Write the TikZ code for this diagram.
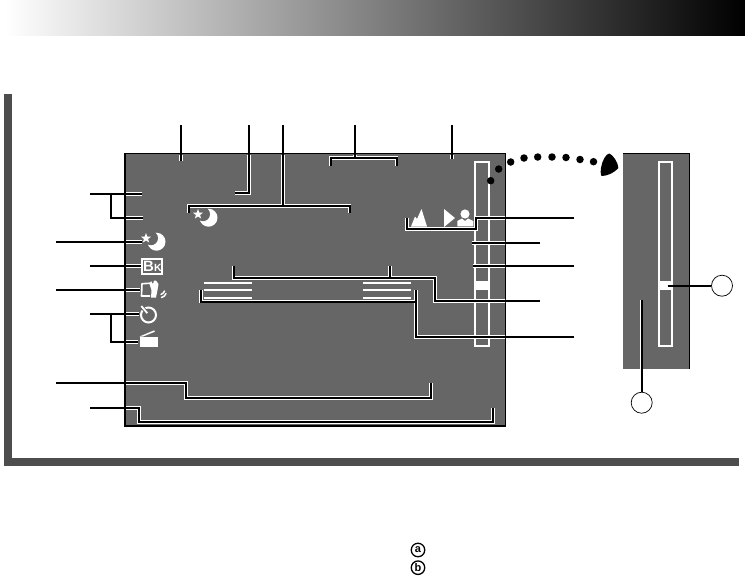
\documentclass[tikz,border=0pt]{standalone}
\usepackage{fontspec}
\setmainfont{Liberation Sans}
\usetikzlibrary{shapes.geometric}
\definecolor{scr}{HTML}{666666}
\definecolor{frm}{HTML}{4D4D4D}
\tikzset{
  x=1pt,y=-1pt,
  lead/.style={draw=black,line width=2pt,line cap=butt,line join=miter},
  halo/.style={draw=white,line width=3.6pt,line cap=square,line join=miter},
  whiteline/.style={draw=white,line width=2pt},
  barframe/.style={draw=white,line width=2pt,fill=scr},
  ring/.style={circle,draw=black,line width=0.7pt,fill=white,minimum size=21pt,inner sep=0pt},
  smallring/.style={circle,draw=black,line width=1.3pt,fill=white,minimum size=13.5pt,inner sep=0pt,font=\bfseries\fontsize{11}{11}\selectfont},
  dot/.style={circle,fill=black,minimum size=7.5pt,inner sep=0pt},
  nightstar/.style={star,star points=5,star point ratio=2.4,fill=white,minimum size=10.5pt,inner sep=0pt},
}
\newcommand\leader[1]{%
  \begin{scope}\clip (126,155) rectangle (505,425);\path[halo] #1;\end{scope}
  \path[lead] #1;}
\newcommand\nightmark[3]{%
  \begin{scope}[shift={(#1,#2)}]
    \fill[white] (0,0) circle (9);
    \fill[scr] (-5.5,-3.5) circle (7);
    \node[nightstar] (#3) at (-10.5,-3.4) {};
  \end{scope}}
\begin{document}
\begin{tikzpicture}
\useasboundingbox (0,0) rectangle (745,576);
\fill[white] (0,0) rectangle (745,576);
% header band
\shade[left color=white,right color=black] (5,0) rectangle (745,35);
% frame
\fill[frm] (4,94) rectangle (12,466);
\fill[frm] (4,458) rectangle (739,466);
% screen
\fill[scr] (124,153) rectangle (506,426);
\draw[black,line width=2pt] (125,426) -- (125,153.5);
\draw[black,line width=1.5pt] (124,153.7) -- (506,153.7);
\draw[black,line width=1pt] (505.5,153) -- (505.5,426);
\draw[black,line width=2pt] (124,425.5) -- (506,425.5);
% screen elements
\path[barframe] (475,162) rectangle (489,346);
\fill[white] (475,281) rectangle (489,290);
\foreach \yy in {283,290,298}{
  \draw[whiteline] (204,\yy) -- (252,\yy);
  \draw[whiteline] (363,\yy) -- (411,\yy);
}
% icons
\nightmark{156.5}{241.7}{nm1}
\nightmark{208.5}{217.7}{nm2}
% Bk
\node[draw=white,line width=2pt,fill=scr,minimum width=20pt,minimum height=15pt,inner sep=0pt,text=white,font=\bfseries] (bk) at (152.4,266)
  {\fontsize{15}{15}\selectfont B\fontsize{10.5}{10.5}\selectfont K};
% hand and card
\draw[white,line width=1.6pt,line join=round] (150.5,283.2) -- (142,283.7) -- (141.5,296) -- (150,296);
\fill[white] (149.5,284) -- (151,281) -- (153,284) -- (154,280.5) -- (156,280.5) -- (158.5,284) -- (157.5,290) -- (156,297.5) -- (151,297.5) -- (151.5,290) -- cycle;
\draw[white,line width=1.5pt,line cap=round] (161,294.5) .. controls (163,293.5) and (164,292.5) .. (164.5,291);
\draw[white,line width=1.5pt,line cap=round] (161.5,297.5) .. controls (163.5,297) and (165.5,295.5) .. (166,293.5);
% timer
\draw[white,line width=2pt] (148.5,315) circle (7.5);
\draw[scr,line width=3.5pt] (140,304.5) -- (147,313);
\draw[white,line width=1.8pt] (141.3,306) -- (147.3,313.2);
% clapper
\fill[white] (139.5,337.2) rectangle (157.5,346.7);
\fill[white] (139.5,336.5) -- (154.2,330.3) -- (154.8,331.8) -- (143,336.5) -- cycle;
% mountains
\fill[white] (411,226.5) -- (415,216.5) -- (417,219) -- (421.5,209) -- (427,226.5) -- cycle;
% arrow
\fill[white] (444,209) -- (455,218) -- (444,227) -- cycle;
% person
\fill[white] (465,214) circle (4.6);
\fill[white] (457.3,226.3) -- (457.3,221) -- (462,218.5) -- (465,221) -- (468,218.5) -- (473.3,221) -- (473.3,226.3) -- cycle;
% leaders, top
\leader{(181,125) -- (181,160.5)}
\leader{(249,125) -- (249,193) -- (235,193)}
\leader{(283,125) -- (283,206) (188.5,212.5) -- (188.5,206) -- (349.5,206) -- (349.5,212.5)}
\leader{(355,125) -- (355,158) (330.5,165.5) -- (330.5,158) -- (396.5,158) -- (396.5,165.5)}
\leader{(452,125) -- (452,158.5)}
% leaders, left
\leader{(90,193.7) -- (142,193.7) (110.7,193.7) -- (110.7,217.7) -- (143,217.7)}
\leader{(56,242) -- (142,242)}
\leader{(90,265.7) -- (141,265.7)}
\leader{(56,290) -- (140,290)}
\leader{(90,313.7) -- (139,313.7) (110.7,313.7) -- (110.7,341.7) -- (138,341.7)}
\leader{(56,383) -- (186,383) -- (186,398) -- (431,398) -- (431,383)}
\leader{(90,407.7) -- (139,407.7) -- (139,421.7) -- (493,421.7) -- (493,407.5)}
% leaders, right
\leader{(574,217.7) -- (475.7,217.7) -- (475.7,228.7) -- (406.7,228.7) -- (406.7,218)}
\leader{(540,242.7) -- (472,242.7)}
\leader{(574,265.7) -- (473,265.7)}
\leader{(540,301) -- (435,301) -- (435,278) -- (233.5,278) -- (233.5,266) (390,278) -- (390,266)}
\leader{(574,337) -- (416,337) -- (416,290) (416,301.5) -- (201,301.5) -- (201,290)}
% dotted arc
\foreach \i/\px/\py in {1/490.7/180.7,2/498.7/169,3/510.7/162,4/524/158,5/537.7/157,6/552/157,7/566/157.5,8/580/159.5,9/593.5/161.7}{
  \node[dot] (d\i) at (\px,\py) {};
}
\fill[black] (609.5,153.5) .. controls (613,155) and (618.5,163) .. (618.3,168)
  .. controls (615,172.5) and (607,176) .. (602,176)
  .. controls (600.5,176) and (600.5,172) .. (601,168)
  .. controls (602,161) and (606,153.5) .. (609.5,153.5) -- cycle;
% side panel
\fill[scr] (623,153) rectangle (690,369);
\draw[black,line width=1pt] (623,153) -- (690,153);
\draw[black,line width=1.5pt] (689.7,153) -- (689.7,369);
\path[barframe] (659,162) rectangle (672,346);
\fill[white] (659,281) rectangle (672,290);
\node[ring] (ca) at (722,285.7) {};
\node[ring] (cb) at (641.7,402.7) {};
\coordinate (pa) at (667.7,285.7);
\coordinate (pb) at (641.7,300);
\begin{scope}
  \clip (623,154) rectangle (688.5,369);
  \draw[draw=white,line width=3.4pt] (pb) -- (cb);
\end{scope}
\path[lead] (pa) -- (ca);
\path[lead] (pb) -- (cb);
% bottom marks
\node[smallring] (ka) at (418,550) {a};
\node[smallring] (kb) at (418,567.7) {b};
\end{tikzpicture}
\end{document}
